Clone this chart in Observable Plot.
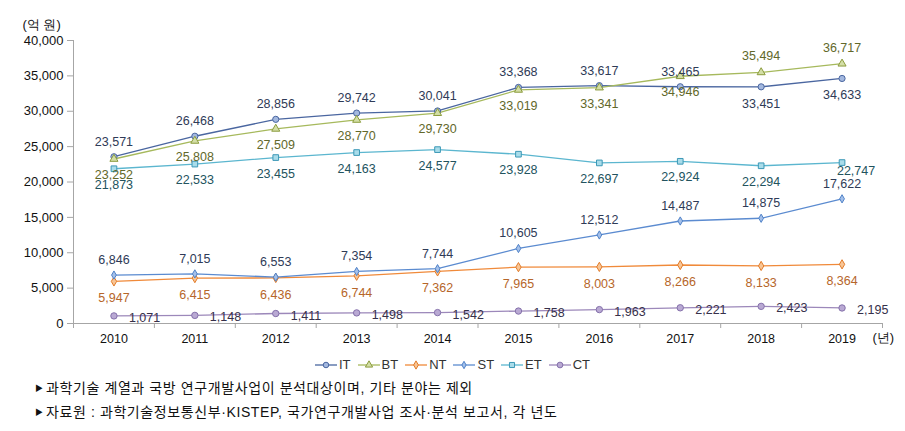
<!DOCTYPE html>
<html>
<head>
<meta charset="utf-8">
<script src="https://cdn.jsdelivr.net/npm/d3@7"></script>
<script src="https://cdn.jsdelivr.net/npm/@observablehq/plot@0.6"></script>
<style>
  html, body { margin: 0; padding: 0; background: #fff; }
  #wrap { position: relative; width: 905px; height: 431px; font-family: "Liberation Sans", Arial, sans-serif; }
  #legend { position: absolute; left: 0; width: 905px; top: 357px; display: flex; justify-content: center; gap: 7px; font-family: "Liberation Sans Narrow", "Liberation Sans", sans-serif; font-size: 13px; color: #333; }
  #legend .item { display: flex; align-items: center; gap: 2px; }
  .note { position: absolute; left: 35px; font-family: "Liberation Sans", "Noto Sans CJK KR", sans-serif; font-size: 14px; letter-spacing: 0.6px; color: #111; white-space: nowrap; }
  .note .tri { font-size: 8px; margin-right: 3px; position: relative; top: -2px; letter-spacing: 0; }
</style>
</head>
<body>
<div id="wrap"></div>
<script>
// ---- data ----
const years = [2010, 2011, 2012, 2013, 2014, 2015, 2016, 2017, 2018, 2019];
const seriesNames = ["IT", "BT", "NT", "ST", "ET", "CT"];
const IT = [23571, 26468, 28856, 29742, 30041, 33368, 33617, 33465, 33451, 34633];
const BT = [23252, 25808, 27509, 28770, 29730, 33019, 33341, 34946, 35494, 36717];
const NT = [5947, 6415, 6436, 6744, 7362, 7965, 8003, 8266, 8133, 8364];
const ST = [6846, 7015, 6553, 7354, 7744, 10605, 12512, 14487, 14875, 17622];
const ET = [21873, 22533, 23455, 24163, 24577, 23928, 22697, 22924, 22294, 22747];
const CT = [1071, 1148, 1411, 1498, 1542, 1758, 1963, 2221, 2423, 2195];
const yTicks = [0, 5000, 10000, 15000, 20000, 25000, 30000, 35000, 40000];
const yUnit = "(억 원)";
const xUnit = "(년)";
const notes = [
  "과학기술 계열과 국방 연구개발사업이 분석대상이며, 기타 분야는 제외",
  "자료원 : 과학기술정보통신부·KISTEP, 국가연구개발사업 조사·분석 보고서, 각 년도"
];

// ---- styles ----
const style = {
  IT: {line: "#4a66a0", fill: "#a3b8df", stroke: "#4a66a0", symbol: "circle", r: 3.1, label: "#2f3b57"},
  BT: {line: "#a6b95c", fill: "#d3dea6", stroke: "#8c9c3e", symbol: "triangle", r: 3.0, label: "#62682a"},
  NT: {line: "#f08a3a", fill: "#f8c595", stroke: "#e27c2a", symbol: "diamond", r: 2.8, label: "#b6662a"},
  ST: {line: "#5b8bd0", fill: "#a4c0ea", stroke: "#4f82c8", symbol: "diamond", r: 2.5, label: "#2f3b57"},
  ET: {line: "#5bb6cf", fill: "#a9dcea", stroke: "#3c98b6", symbol: "square", r: 3.2, label: "#22535e"},
  CT: {line: "#9c88ba", fill: "#b9a9d3", stroke: "#8571ab", symbol: "circle", r: 3.2, label: "#36304a"}
};
const valuesBy = {IT, BT, NT, ST, ET, CT};

const rows = [];
for (const s of seriesNames) {
  valuesBy[s].forEach((v, i) => rows.push({series: s, year: years[i], value: v}));
}
const fmt = d3.format(",");

// label placement rules
function labelDy(d) {
  if (d.series === "IT") return d.year <= 2017 ? -15 : 17;
  if (d.series === "BT") return d.year <= 2017 ? 16 : -16;
  if (d.series === "ST") return -15;
  if (d.series === "NT") return 17;
  if (d.series === "ET") return d.year === 2019 ? 8 : 16;
  if (d.series === "CT") return 2;
  return 0;
}

const marks = [];
// axes lines
marks.push(Plot.ruleY([0], {stroke: "#a6a6a6"}));
marks.push(Plot.ruleX([2009.5], {stroke: "#a6a6a6"}));
marks.push(Plot.axisY({ticks: yTicks, tickSize: 6, stroke: "#a6a6a6", fill: "#111", tickFormat: d => fmt(d), tickPadding: 4, fontSize: 13, label: null}));
marks.push(Plot.axisX({ticks: d3.range(2009.5, 2020, 1), tickSize: 5, stroke: "#a6a6a6", tickFormat: () => "", label: null}));
marks.push(Plot.axisX({ticks: years, tickSize: 0, tickPadding: 11, fill: "#111", tickFormat: d => String(d), fontSize: 12.5, label: null}));

for (const s of seriesNames) {
  const st = style[s];
  const data = rows.filter(d => d.series === s);
  marks.push(Plot.line(data, {x: "year", y: "value", stroke: st.line, strokeWidth: 1.3}));
}
for (const s of seriesNames) {
  const st = style[s];
  const data = rows.filter(d => d.series === s);
  marks.push(Plot.dot(data, {x: "year", y: "value", symbol: st.symbol, r: st.r, fill: st.fill, stroke: st.stroke, strokeWidth: 1}));
}
for (const s of seriesNames) {
  const st = style[s];
  const data = rows.filter(d => d.series === s);
  for (const d of data) {
    const isCT = s === "CT";
    const isET19 = s === "ET" && d.year === 2019;
    marks.push(Plot.text([d], {
      x: "year", y: "value", text: dd => fmt(dd.value),
      dy: labelDy(d), dx: isCT ? 15 : (isET19 ? 14 : 0),
      textAnchor: isCT ? "start" : "middle",
      fill: st.label, fontSize: 12.5
    }));
  }
}
marks.push(Plot.text([yUnit], {frameAnchor: "top-left", text: d => d, dx: -51, dy: -21, textAnchor: "start", fontSize: 13, fill: "#111"}));
marks.push(Plot.text([xUnit], {frameAnchor: "bottom-right", text: d => d, dx: -10, dy: 18, textAnchor: "start", fontSize: 13, fill: "#111"}));

const chart = Plot.plot({
  width: 905,
  height: 351,
  marginTop: 40,
  marginLeft: 73,
  marginRight: 23,
  marginBottom: 28,
  style: {fontFamily: "'Liberation Sans', Arial, sans-serif", background: "#fff", overflow: "visible"},
  x: {domain: [2009.5, 2019.5]},
  y: {domain: [0, 40000]},
  marks
});
const wrap = document.getElementById("wrap");
wrap.appendChild(chart);

// legend
const legend = document.createElement("div");
legend.id = "legend";
for (const s of seriesNames) {
  const st = style[s];
  const item = document.createElement("div");
  item.className = "item";
  const sym = d3.symbol({circle: d3.symbolCircle, triangle: d3.symbolTriangle, diamond: d3.symbolDiamond, square: d3.symbolSquare}[st.symbol], Math.PI * st.r * st.r * 0.8)();
  item.innerHTML = `<svg width="22" height="12"><line x1="0" x2="22" y1="6" y2="6" stroke="${st.line}" stroke-width="1.3"/><path transform="translate(11,6)" d="${sym}" fill="${st.fill}" stroke="${st.stroke}"/></svg><span>${s}</span>`;
  legend.appendChild(item);
}
wrap.appendChild(legend);

notes.forEach((t, i) => {
  const n = document.createElement("div");
  n.className = "note";
  n.style.top = (377 + i * 24) + "px";
  n.innerHTML = `<span class="tri">▶</span>${t}`;
  wrap.appendChild(n);
});
</script>
</body>
</html>
